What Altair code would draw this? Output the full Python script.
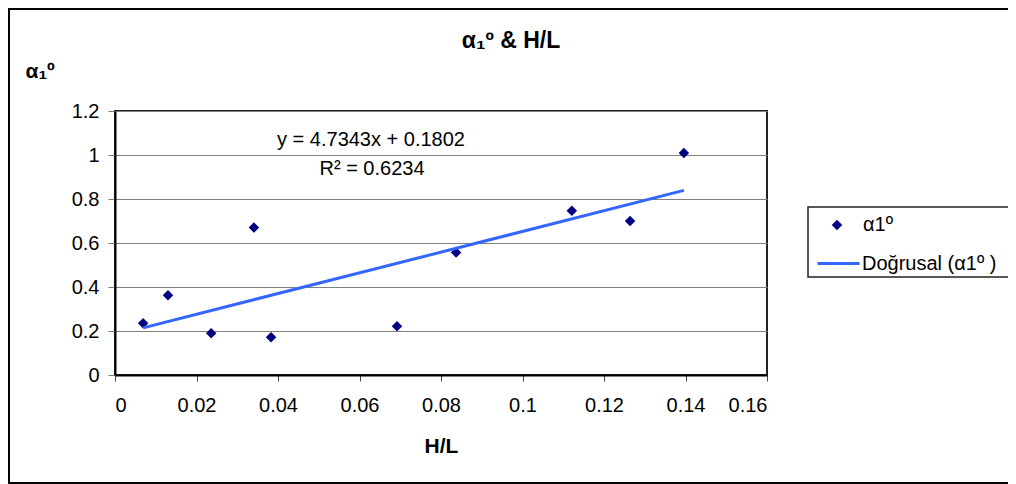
import altair as alt
import pandas as pd

# ---- data ----
hl = [0.0069, 0.0130, 0.0236, 0.0341, 0.0383, 0.0692, 0.0837, 0.1121, 0.1264, 0.1396]
alpha = [0.235, 0.362, 0.190, 0.670, 0.172, 0.222, 0.557, 0.747, 0.700, 1.009]
series_names = ["α1º", "Doğrusal (α1º )"]
series_colors = ["#000080", "#3366FF"]
x_ticks = [0, 0.02, 0.04, 0.06, 0.08, 0.1, 0.12, 0.14, 0.16]
y_ticks = [0, 0.2, 0.4, 0.6, 0.8, 1, 1.2]
chart_title = ["α₁º & H/L"]
x_title = "H/L"
y_title = "α₁º"
eq_line = ["y = 4.7343x + 0.1802"]
r2_line = ["R² = 0.6234"]

FONT = "Liberation Sans"
W, H = 652, 264

df = pd.DataFrame({"x": hl, "y": alpha, "series": series_names[0]})

X = alt.X(
    "x:Q",
    scale=alt.Scale(domain=[0, 0.16], nice=False),
    axis=alt.Axis(
        values=x_ticks, format="~g", grid=False,
        labelFont=FONT, labelFontSize=20, labelColor="black", labelPadding=14,
        tickSize=6, tickColor="#444", domainColor="black", domainWidth=2,
        title=x_title, titleFont=FONT, titleFontSize=21, titleFontWeight="bold",
        titleColor="black", titleY=77, titleBaseline="alphabetic",
    ),
)
Y = alt.Y(
    "y:Q",
    scale=alt.Scale(domain=[0, 1.2], nice=False),
    axis=alt.Axis(
        values=y_ticks, format="~g", grid=True, gridColor="#808080", gridWidth=1,
        labelFont=FONT, labelFontSize=20, labelColor="black", labelPadding=9,
        tickSize=7, tickColor="#777", domainColor="black", domainWidth=2,
        title=y_title, titleFont=FONT, titleFontSize=21, titleFontWeight="bold",
        titleColor="black", titleAngle=0, titleAlign="left",
        titleBaseline="alphabetic", titleX=-90, titleY=-34,
    ),
)

legend_pts = alt.Legend(
    orient="none", legendX=712, legendY=104, title=None, padding=0,
    labelFont=FONT, labelFontSize=20, labelColor="black", labelOffset=16,
    symbolSize=110, symbolType="diamond", symbolOpacity=1,
)
legend_line = alt.Legend(
    orient="none", legendX=701, legendY=130, title=None, padding=0,
    labelFont=FONT, labelFontSize=20, labelColor="black", labelOffset=1,
    symbolSize=1764, symbolType="stroke", symbolStrokeWidth=3,
)

base = alt.Chart(df)

points = base.mark_point(shape="diamond", filled=True, size=110, opacity=1).encode(
    x=X, y=Y,
    color=alt.Color("series:N",
                    scale=alt.Scale(domain=[series_names[0]], range=[series_colors[0]]),
                    legend=legend_pts),
)

trend = (
    base.transform_regression("x", "y")
    .transform_calculate(series=f"'{series_names[1]}'")
    .mark_line(strokeWidth=3)
    .encode(
        x=X, y=Y,
        stroke=alt.Stroke("series:N",
                          scale=alt.Scale(domain=[series_names[1]], range=[series_colors[1]]),
                          legend=legend_line),
    )
)

one = pd.DataFrame({"k": [0]})
border_left = alt.Chart(one).mark_rule(color="black", strokeWidth=2).encode(
    x=alt.value(-106), y=alt.value(-102), y2=alt.value(372)
)
border_top = alt.Chart(one).mark_rule(color="black", strokeWidth=2).encode(
    x=alt.value(-107), x2=alt.value(893), y=alt.value(-102)
)
border_bottom = alt.Chart(one).mark_rule(color="black", strokeWidth=2).encode(
    x=alt.value(-107), x2=alt.value(893), y=alt.value(372)
)

legend_box = alt.Chart(one).mark_rect(
    fill="white", stroke="#222", strokeWidth=1.5
).encode(
    x=alt.value(693), x2=alt.value(897), y=alt.value(96), y2=alt.value(166)
)

title_mark = alt.Chart(pd.DataFrame({"t": chart_title})).mark_text(
    font=FONT, fontSize=23, fontWeight="bold", color="black", align="center",
    baseline="alphabetic",
).encode(text="t:N", x=alt.value(396), y=alt.value(-63))

eq_mark = alt.Chart(pd.DataFrame({"t": eq_line})).mark_text(
    font=FONT, fontSize=20, color="black", align="center", baseline="alphabetic"
).encode(text="t:N", x=alt.value(256), y=alt.value(35))

r2_mark = alt.Chart(pd.DataFrame({"t": r2_line})).mark_text(
    font=FONT, fontSize=20, color="black", align="center", baseline="alphabetic"
).encode(text="t:N", x=alt.value(257), y=alt.value(64))

chart = (
    alt.layer(border_left, border_top, border_bottom, legend_box, points, trend,
              eq_mark, r2_mark, title_mark)
    .resolve_scale(color="independent", stroke="independent")
    .properties(
        width=W, height=H,
        autosize=alt.AutoSizeParams(type="none"),
        padding={"left": 107, "top": 103, "right": 241, "bottom": 109},
        background="white",
    )
    .configure_view(stroke="#222", strokeWidth=2)
)

chart.save("out.html", embed_options={"renderer": "svg", "actions": False})
